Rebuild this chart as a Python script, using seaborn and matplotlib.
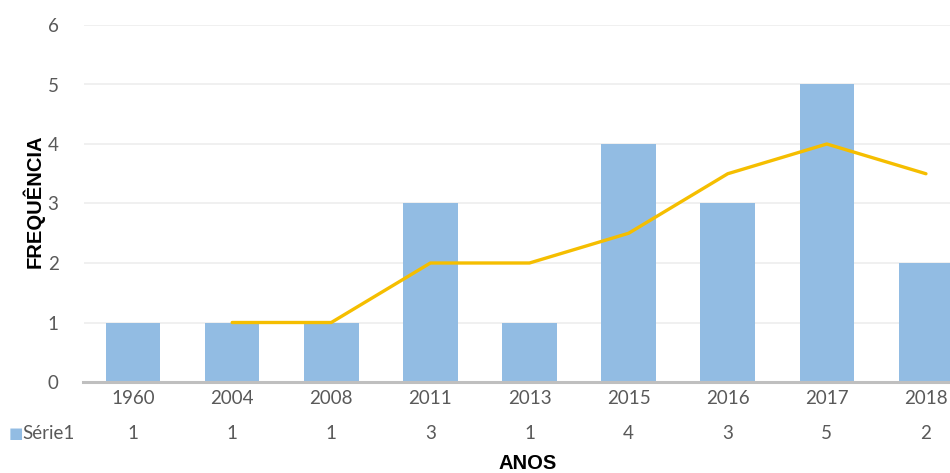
import matplotlib
matplotlib.use("Agg")
import matplotlib.pyplot as plt
import matplotlib.transforms as mtransforms
import seaborn as sns
import pandas as pd

# dados
anos = ["1960", "2004", "2008", "2011", "2013", "2015", "2016", "2017", "2018"]
frequencia = [1, 1, 1, 3, 1, 4, 3, 5, 2]
# linha de tendência (média móvel 2 períodos)
linha_anos = ["2004", "2008", "2011", "2013", "2015", "2016", "2017", "2018"]
linha_valores = [1, 1, 2, 2, 2.5, 3.5, 4, 3.5]
y_ticks = [0, 1, 2, 3, 4, 5, 6]

cor_barra = "#92BCE3"
cor_linha = "#F5BE00"
cinza_texto = "#595959"

sns.set_style("white")
plt.rcParams["font.family"] = ["Lato", "DejaVu Sans"]

fig = plt.figure(figsize=(9.5, 4.73), dpi=100)
# plot area is cropped on the right like the original
ax = fig.add_axes([83.5 / 950, 91 / 473, 892 / 950, 357 / 473])

df = pd.DataFrame({"ano": anos, "freq": frequencia})
sns.barplot(data=df, x="ano", y="freq", color=cor_barra, width=0.55,
            saturation=1, linewidth=0, ax=ax, zorder=2)

pos = [anos.index(a) for a in linha_anos]
dl = pd.DataFrame({"x": pos, "y": linha_valores})
sns.lineplot(data=dl, x="x", y="y", color=cor_linha, linewidth=2.4, ax=ax,
             zorder=3)

ax.set_xlim(-0.5, len(anos) - 0.5)
ax.set_ylim(0, 6)
ax.set_yticks(y_ticks)
ax.yaxis.grid(True, color="#EDEDED", linewidth=1.2, zorder=0)
ax.set_axisbelow(True)
for s in ["top", "right", "left"]:
    ax.spines[s].set_visible(False)
ax.spines["bottom"].set_color("#BFBFBF")
ax.spines["bottom"].set_linewidth(2.2)
ax.tick_params(axis="both", length=0, labelsize=13.5, labelcolor=cinza_texto)
ax.tick_params(axis="y", pad=18)
ax.tick_params(axis="x", pad=6)
ax.set_xlabel("")
ax.set_ylabel("")

# tabela de dados
trans = mtransforms.blended_transform_factory(ax.transData, fig.transFigure)
for i, v in enumerate(frequencia):
    ax.text(i, 1 - 433 / 473, str(v), transform=trans, ha="center",
            va="center", fontsize=13.5, color=cinza_texto)
fig.text(9 / 950, 1 - 433 / 473, "■", fontsize=11, color=cor_barra,
         va="center", ha="left", family="DejaVu Sans")
fig.text(22 / 950, 1 - 433 / 473, "Série1", fontsize=13.5, color=cinza_texto,
         va="center", ha="left")

fig.text(528 / 950, 1 - 463 / 473, "ANOS", fontsize=14.5, fontweight="bold",
         family="Liberation Sans", ha="center", va="center", color="black")
fig.text(33 / 950, 1 - 201 / 473, "FREQUÊNCIA", fontsize=14.5, fontweight="bold",
         family="Liberation Sans", rotation=90, ha="center", va="center",
         color="black")

fig.savefig("out.png", dpi=100)
